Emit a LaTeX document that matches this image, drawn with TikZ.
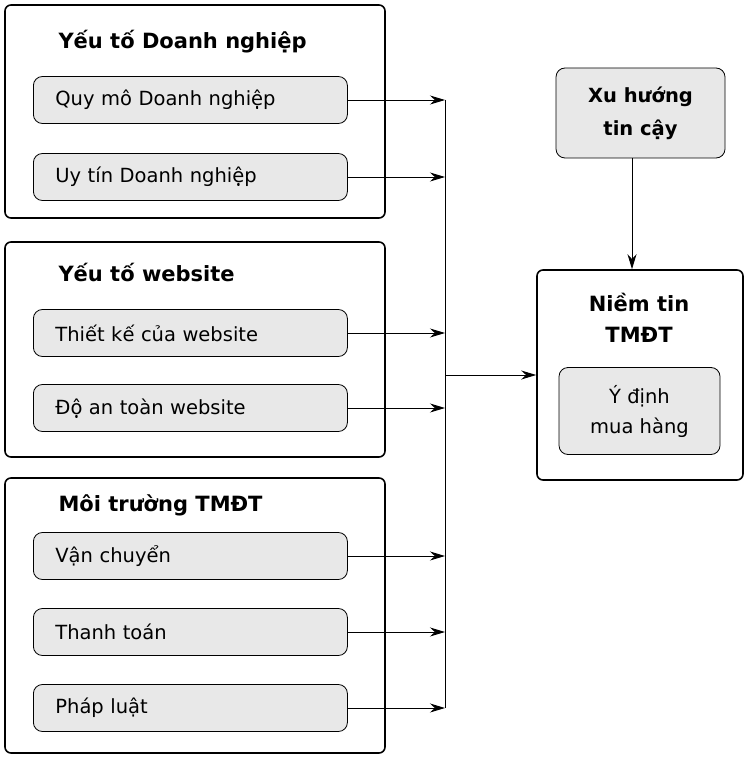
\documentclass[tikz,border=0pt]{standalone}
\usepackage{fontspec}
\setmainfont{DejaVu Sans}
\usetikzlibrary{positioning,arrows.meta}
\tikzset{
  group/.style={draw, line width=1.6pt, rounded corners=6pt},
  item/.style={draw, line width=0.8pt, rounded corners=9pt, fill=gray!18, anchor=west,
    minimum width=314pt, minimum height=47pt, text width=270pt, inner xsep=22pt, align=left,
    font=\fontsize{19.5}{23}\selectfont},
  head/.style={anchor=west, font=\fontsize{21}{25}\selectfont\bfseries},
  link/.style={line width=0.9pt, -{Stealth[length=15pt,width=9pt]}}
}
\begin{document}
\begin{tikzpicture}[x=1pt,y=-1pt]
        \useasboundingbox (0,0) rectangle (749,762);
        % groups
        \draw[group] (5,5) rectangle (385,218);
        \draw[group] (5,242) rectangle (385,457);
        \draw[group] (5,478) rectangle (385,753);
        \node[head] (g1) at (55,42) {Yếu tố Doanh nghiệp};
        \node[head] (g2) at (55,272) {Yếu tố website};
        \node[head] (g3) at (55,505) {Môi trường TMĐT};

        \node[item] (a1) at (33,100) {Quy mô Doanh nghiệp};
        \node[item] (a2) at (33,177) {Uy tín Doanh nghiệp};
        \node[item] (b1) at (33,333) {Thiết kế của website};
        \node[item] (b2) at (33,408) {Độ an toàn website};
        \node[item] (c1) at (33,556) {Vận chuyển};
        \node[item] (c2) at (33,632) {Thanh toán};
        \node[item] (c3) at (33,708) {Pháp luật};

        \coordinate (top) at (445,100);
        \coordinate (bot) at (445,708);
        \draw[line width=0.9pt] (top) -- (bot);
        \foreach \n in {a1, a2, b1, b2, c1, c2, c3}
            \draw[link] (\n.east) -- (top |- \n.east);

        % right side
        \node[draw, line width=1.6pt, rounded corners=6pt, minimum width=206pt,
              minimum height=210pt] (nt) at (640,375) {};
        \node[font=\fontsize{21}{31}\selectfont\bfseries, align=center] (ntl) at (639,318) {Niềm tin\\TMĐT};
        \node[draw, line width=0.8pt, rounded corners=9pt, fill=gray!18, minimum width=161pt,
              minimum height=87pt, align=center, font=\fontsize{19.5}{30}\selectfont] (yd) at (639.5,411) {Ý định\\mua hàng};
        \node[draw, line width=0.8pt, rounded corners=9pt, fill=gray!18, minimum width=169pt,
              minimum height=90pt, align=center, font=\fontsize{19.5}{33}\selectfont\bfseries] (xh) at (640.5,113) {Xu hướng\\tin cậy};

        \draw[link] (top |- nt.west) -- (nt.west);
        \draw[link] (xh.south -| 632,0) -- (nt.north -| 632,0);
\end{tikzpicture}
\end{document}
